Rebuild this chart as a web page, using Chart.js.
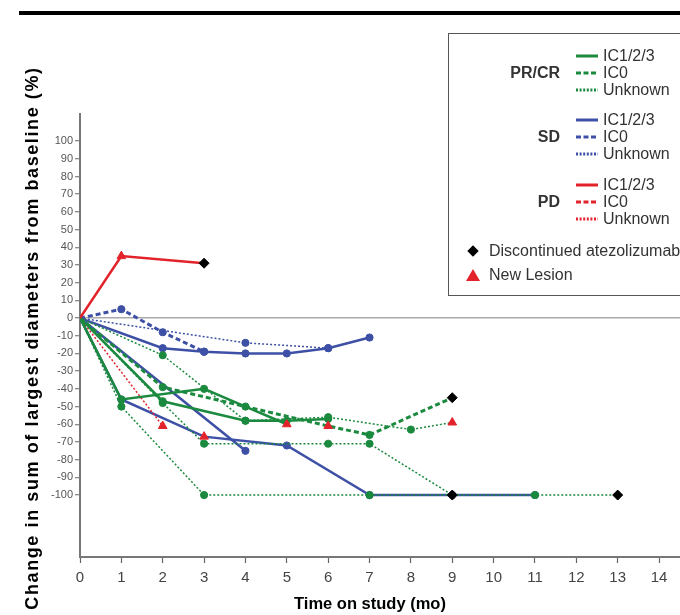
<!DOCTYPE html>
<html>
<head>
<meta charset="utf-8">
<script src="https://cdn.jsdelivr.net/npm/chart.js@4.4.1/dist/chart.umd.min.js"></script>
<style>
  body { margin: 0; background: #fff; }
  #wrap { position: relative; width: 680px; height: 615px; overflow: hidden; font-family: "Liberation Sans", Arial, sans-serif; }
  #myChart { position: absolute; left: 0; top: 0; }
  #topRule { position: absolute; left: 19px; top: 11px; width: 661px; height: 4px; background: #000; }
  #legendBox { position: absolute; left: 448px; top: 33px; width: 260px; height: 263px; border: 1.5px solid #555; box-sizing: border-box; }
  .lg { position: absolute; font-size: 16px; line-height: 18px; color: #333; white-space: nowrap; }
  .grp { font-weight: bold; text-align: right; width: 80px; }
  .sw { position: absolute; }
  .dia { position: absolute; width: 8px; height: 8px; background: #000; transform: rotate(45deg); }
  .tri { position: absolute; width: 0; height: 0; border-left: 7px solid transparent; border-right: 7px solid transparent; border-bottom: 12px solid #e3232b; }
</style>
</head>
<body>
<div id="wrap">
  <canvas id="myChart" width="687" height="615"></canvas>
  <div id="topRule"></div>
  <div id="legendBox"></div>
</div>
<script>
// tick labels
const monthTicks = [0, 1, 2, 3, 4, 5, 6, 7, 8, 9, 10, 11, 12, 13, 14];
const changeTicks = [100, 90, 80, 70, 60, 50, 40, 30, 20, 10, 0, -10, -20, -30, -40, -50, -60, -70, -80, -90, -100];

// events: '' = visit, 'L' = new lesion, 'D' = discontinued atezolizumab
// PR/CR
const prSolid1Months = [0, 1, 3, 4, 5];
const prSolid1Change = [0, -46, -40, -50, -60];
const prSolid1Events = ['', '', '', '', 'L'];
const prSolid2Months = [0, 2, 4, 5, 6];
const prSolid2Change = [0, -47, -58, -58, -57];
const prSolid2Events = ['', '', '', '', ''];
const prDashMonths = [0, 2, 6, 7, 9];
const prDashChange = [0, -39, -61, -66, -45];
const prDashEvents = ['', '', 'L', '', 'D'];
const prDot1Months = [0, 2, 4, 6, 8, 9];
const prDot1Change = [0, -21, -58, -56, -63, -59];
const prDot1Events = ['', '', '', '', '', 'L'];
const prDot2Months = [0, 1, 3, 7, 11, 13];
const prDot2Change = [0, -50, -100, -100, -100, -100];
const prDot2Events = ['', '', '', '', '', 'D'];
const prDot3Months = [0, 2, 3, 6, 7, 9];
const prDot3Change = [0, -48, -71, -71, -71, -100];
const prDot3Events = ['', '', '', '', '', 'D'];

// SD
const sdSolid1Months = [0, 2, 3, 4, 5, 6, 7];
const sdSolid1Change = [0, -17, -19, -20, -20, -17, -11];
const sdSolid1Events = ['', '', '', '', '', '', ''];
const sdSolid2Months = [0, 1, 3, 5, 7, 9, 11];
const sdSolid2Change = [0, -46, -67, -72, -100, -100, -100];
const sdSolid2Events = ['', '', 'L', '', '', '', ''];
const sdSolid3Months = [0, 4];
const sdSolid3Change = [0, -75];
const sdSolid3Events = ['', ''];
const sdDashMonths = [0, 1, 2, 3];
const sdDashChange = [0, 5, -8, -19];
const sdDashEvents = ['', '', '', ''];
const sdDotMonths = [0, 4, 6];
const sdDotChange = [0, -14, -17];
const sdDotEvents = ['', '', ''];

// PD
const pdSolidMonths = [0, 1, 3];
const pdSolidChange = [0, 35, 31];
const pdSolidEvents = ['', 'L', 'D'];
const pdDotMonths = [0, 2];
const pdDotChange = [0, -61];
const pdDotEvents = ['', 'L'];

const xTitle = 'Time on study (mo)';
const yTitle = 'Change in sum of largest diameters from baseline (%)';

const GREEN = '#1b8a3f';
const BLUE = '#3d50a5';
const RED = '#e3232b';

const lineLook = {
  solid: { width: 2.5, dash: [] },
  dash: { width: 3, dash: [5, 3] },
  dot: { width: 1.5, dash: [2, 2] }
};

function series(months, change, events, color, look) {
  return {
    data: months.map((m, i) => ({ x: m, y: change[i] })),
    borderColor: color,
    borderWidth: lineLook[look].width,
    borderDash: lineLook[look].dash,
    fill: false,
    tension: 0,
    pointStyle: events.map(e => e === 'L' ? 'triangle' : e === 'D' ? 'rectRot' : 'circle'),
    pointRadius: events.map((e, i) => i === 0 ? 0 : (e ? 5 : 3.6)),
    pointBackgroundColor: events.map(e => e === 'L' ? RED : e === 'D' ? '#000' : color),
    pointBorderColor: events.map(e => e === 'L' ? RED : e === 'D' ? '#000' : color),
    pointBorderWidth: 1
  };
}

// axis titles, drawn by hand so the y title can be letter-spaced like the original
const axisTitlePlugin = {
  id: 'axisTitles',
  afterDraw(chart) {
    const ctx = chart.ctx;
    ctx.save();
    ctx.fillStyle = '#000';
    ctx.textAlign = 'center';
    ctx.textBaseline = 'middle';
    ctx.font = 'bold 16.5px "Liberation Sans", Arial, sans-serif';
    ctx.fillText(xTitle, 370, 604);
    ctx.translate(33, 338);
    ctx.rotate(-Math.PI / 2);
    ctx.font = 'bold 18px "Liberation Sans", Arial, sans-serif';
    ctx.letterSpacing = '1.6px';
    ctx.fillText(yTitle, 0, 0);
    ctx.restore();
  }
};

document.addEventListener('DOMContentLoaded', function() {
  const ctx = document.getElementById('myChart').getContext('2d');

  new Chart(ctx, {
    type: 'line',
    data: {
      datasets: [
        series(pdSolidMonths, pdSolidChange, pdSolidEvents, RED, 'solid'),
        series(prDot3Months, prDot3Change, prDot3Events, GREEN, 'dot'),
        series(prDot2Months, prDot2Change, prDot2Events, GREEN, 'dot'),
        series(prDashMonths, prDashChange, prDashEvents, GREEN, 'dash'),
        series(prDot1Months, prDot1Change, prDot1Events, GREEN, 'dot'),
        series(prSolid1Months, prSolid1Change, prSolid1Events, GREEN, 'solid'),
        series(prSolid2Months, prSolid2Change, prSolid2Events, GREEN, 'solid'),
        series(pdDotMonths, pdDotChange, pdDotEvents, RED, 'dot'),
        series(sdSolid2Months, sdSolid2Change, sdSolid2Events, BLUE, 'solid'),
        series(sdSolid3Months, sdSolid3Change, sdSolid3Events, BLUE, 'solid'),
        series(sdSolid1Months, sdSolid1Change, sdSolid1Events, BLUE, 'solid'),
        series(sdDashMonths, sdDashChange, sdDashEvents, BLUE, 'dash'),
        series(sdDotMonths, sdDotChange, sdDotEvents, BLUE, 'dot')
      ]
    },
    options: {
      responsive: false,
      animation: false,
      layout: { padding: { top: 114, left: 0, right: 0, bottom: 0 } },
      plugins: {
        legend: { display: false },
        tooltip: { enabled: false }
      },
      scales: {
        x: {
          type: 'linear',
          min: 0,
          max: 14.53,
          afterBuildTicks: s => { s.ticks = monthTicks.map(v => ({ value: v })); },
          afterFit: s => { s.height = 58; },
          grid: { drawOnChartArea: false, tickColor: '#666', tickLength: 6, tickWidth: 1.2 },
          border: { color: '#777', width: 2 },
          ticks: {
            color: '#444',
            padding: 6,
            maxRotation: 0,
            font: { family: '"Liberation Sans Narrow", "Liberation Sans", Arial', size: 15 }
          }
        },
        y: {
          min: -135,
          max: 115.3,
          afterBuildTicks: s => { s.ticks = changeTicks.map(v => ({ value: v })); },
          afterFit: s => { s.width = 80; },
          grid: {
            color: c => c.tick && c.tick.value === 0 ? '#aaa' : 'rgba(0,0,0,0)',
            lineWidth: 1.5,
            tickColor: '#666',
            tickLength: 5,
            tickWidth: 1
          },
          border: { color: '#777', width: 2 },
          ticks: {
            color: '#555',
            padding: 2,
            font: { family: '"Liberation Sans Narrow", "Liberation Sans", Arial', size: 11 }
          }
        }
      }
    },
    plugins: [axisTitlePlugin]
  });

  // legend
  const legendGroups = ['PR/CR', 'SD', 'PD'];
  const legendColors = [GREEN, BLUE, RED];
  const legendTypes = ['IC1/2/3', 'IC0', 'Unknown'];
  const legendDash = ['', '5,2.5', '2,1.6'];
  const groupTop = [56, 120, 185];
  const wrap = document.getElementById('wrap');

  function addText(text, left, cy, cls) {
    const el = document.createElement('div');
    el.className = 'lg ' + (cls || '');
    el.textContent = text;
    el.style.left = left + 'px';
    el.style.top = (cy - 9) + 'px';
    wrap.appendChild(el);
    return el;
  }

  legendGroups.forEach((g, gi) => {
    addText(g, 480, groupTop[gi] + 17, 'grp');
    legendTypes.forEach((t, ti) => {
      const cy = groupTop[gi] + ti * 17;
      const sw = document.createElementNS('http://www.w3.org/2000/svg', 'svg');
      sw.setAttribute('width', '22');
      sw.setAttribute('height', '6');
      sw.setAttribute('class', 'sw');
      sw.style.left = '576px';
      sw.style.top = (cy - 3) + 'px';
      sw.innerHTML = '<line x1="0" y1="3" x2="22" y2="3" stroke="' + legendColors[gi] +
        '" stroke-width="3" stroke-dasharray="' + legendDash[ti] + '"/>';
      wrap.appendChild(sw);
      addText(t, 603, cy);
    });
  });

  const dia = document.createElement('div');
  dia.className = 'dia';
  dia.style.left = '469px';
  dia.style.top = '247px';
  wrap.appendChild(dia);
  addText('Discontinued atezolizumab', 489, 251);

  const tri = document.createElement('div');
  tri.className = 'tri';
  tri.style.left = '466px';
  tri.style.top = '269px';
  wrap.appendChild(tri);
  addText('New Lesion', 489, 275);
});
</script>
</body>
</html>
